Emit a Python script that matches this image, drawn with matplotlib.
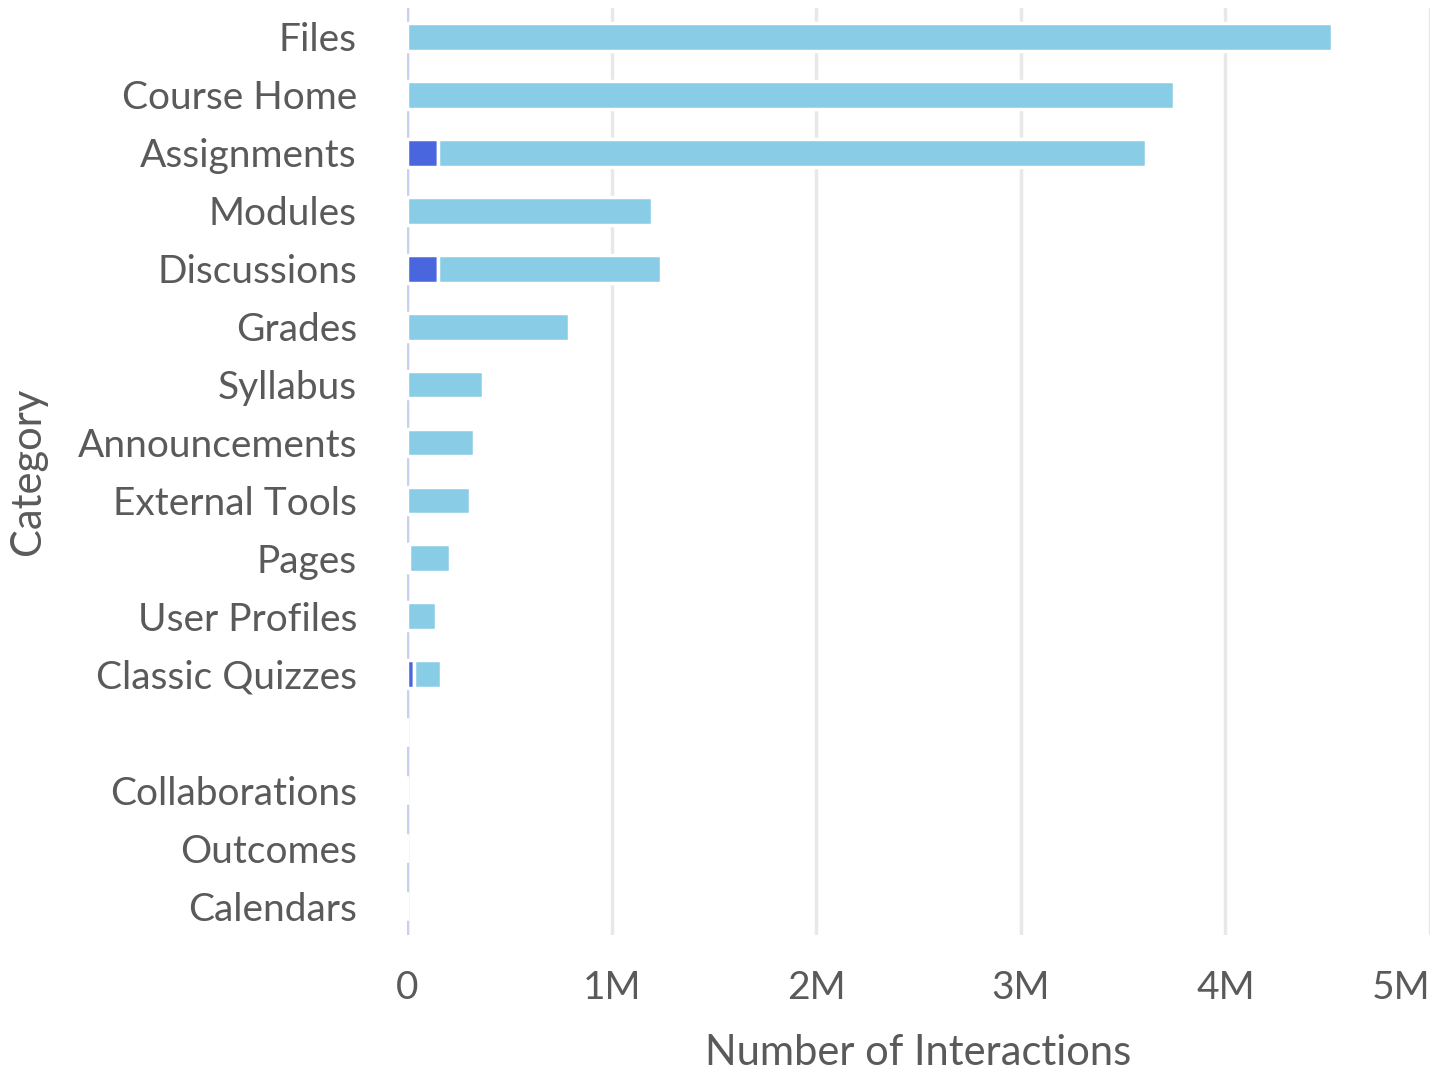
import numpy as np
import matplotlib
matplotlib.use('Agg')
import matplotlib.pyplot as plt

categories = ['Files', 'Course Home', 'Assignments', 'Modules', 'Discussions', 'Grades',
              'Syllabus', 'Announcements', 'External Tools', 'Pages', 'User Profiles',
              'Classic Quizzes', '', 'Collaborations', 'Outcomes', 'Calendars']

# values in millions of interactions
dark_vals  = [0.0, 0.0, 0.15, 0.0, 0.15, 0.0, 0.0, 0.0, 0.0, 0.01, 0.0, 0.035, 0.0, 0.0, 0.0, 0.0]
light_vals = [4.52, 3.75, 3.46, 1.20, 1.09, 0.79, 0.37, 0.33, 0.31, 0.20, 0.14, 0.13, 0.0, 0.0, 0.0, 0.0]

xticks = [0, 1, 2, 3, 4, 5]
xtick_labels = ['0', '1M', '2M', '3M', '4M', '5M']

plt.rcParams['font.family'] = ['Lato', 'DejaVu Sans']
text_col = '#5a5a5a'

fig = plt.figure(figsize=(14.36, 10.73), dpi=100)
ax = fig.add_axes([0.2834, 0.1286, 0.7124, 0.864])

y = np.arange(len(categories))
dark  = np.array(dark_vals)
light = np.array(light_vals)

ax.barh(y, dark, height=0.48, color='#4a66de', edgecolor='white', linewidth=2.5, zorder=3)
ax.barh(y, light, left=dark, height=0.48, color='#89cce6', edgecolor='white', linewidth=2.5, zorder=3)

ax.set_ylim(len(categories) - 0.5, -0.5)
ax.set_xlim(0, 5)
ax.set_yticks(y)
ax.set_yticklabels(categories)
ax.set_xticks(xticks)
ax.set_xticklabels(xtick_labels)
ax.get_xticklabels()[-1].set_horizontalalignment('right')

for s in ax.spines.values():
    s.set_visible(False)
ax.tick_params(axis='both', length=0, labelsize=28, colors=text_col)
ax.tick_params(axis='y', pad=36)
ax.tick_params(axis='x', pad=25)

ax.set_axisbelow(True)
ax.grid(axis='x', color='#e8e8e8', linewidth=2.5)
ax.axvline(0, color='#c9d0ee', linewidth=2.5, zorder=2)

ax.set_xlabel('Number of Interactions', fontsize=30, color=text_col, labelpad=20)
ax.set_ylabel('Category', fontsize=30, color=text_col, labelpad=22)

fig.savefig('out.png', dpi=100, facecolor='white')
